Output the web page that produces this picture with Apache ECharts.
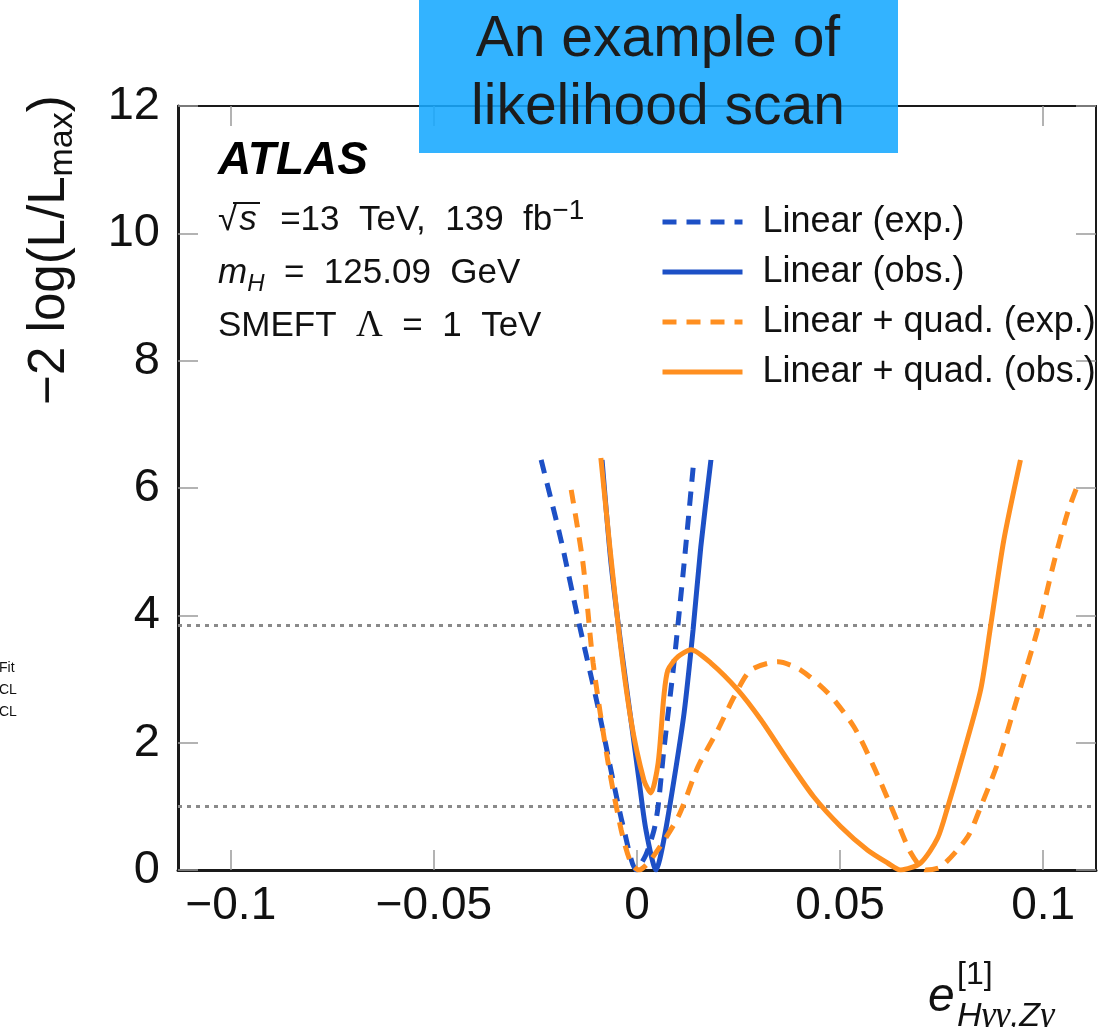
<!DOCTYPE html>
<html><head><meta charset="utf-8">
<script src="https://cdn.jsdelivr.net/npm/echarts@6/dist/echarts.min.js"></script>
<style>html,body{margin:0;padding:0;background:#fff}#c{width:1113px;height:1027px}</style>
</head><body><div id="c"></div>
<script>
// ---- data ----
const xTicks = [-0.1, -0.05, 0, 0.05, 0.1];
const yTicks = [0, 2, 4, 6, 8, 10, 12];
const clLevels = [1, 3.84];
const seriesNames = ['Linear (exp.)', 'Linear (obs.)', 'Linear + quad. (exp.)', 'Linear + quad. (obs.)'];

const linExp = [[-0.0236,6.44],[-0.0187,5.18],[-0.0143,3.88],[-0.0096,2.56],[-0.0059,1.41],[-0.0032,0.63],[-0.0002,0.0],
  [0.0022,0.24],[0.0042,0.63],[0.0052,1.0],[0.0066,1.88],[0.0091,3.25],[0.0116,4.82],[0.0140,6.44]];
const linObs = [[-0.0086,6.44],[-0.0064,4.82],[-0.0039,3.50],[-0.0015,2.36],[0.0005,1.41],[0.0022,0.63],[0.0047,0.0],
  [0.0066,0.47],[0.0091,1.41],[0.0116,2.47],[0.0138,3.77],[0.0157,5.07],[0.0182,6.44]];
const quadExp = [[-0.0162,5.97],[-0.0133,4.82],[-0.0108,3.25],[-0.0071,1.68],[-0.0039,0.63],[-0.0015,0.11],[0.0005,0.0],
  [0.0034,0.16],[0.0101,0.83],[0.0150,1.62],[0.0199,2.20],[0.0239,2.72],[0.0280,3.14],[0.0347,3.27],[0.0403,3.14],
  [0.0470,2.78],[0.0534,2.25],[0.0583,1.62],[0.0632,0.90],[0.0674,0.27],[0.0711,0.0],[0.0748,0.05],[0.0814,0.52],
  [0.0846,0.99],[0.0888,1.68],[0.0937,2.72],[0.0986,3.77],[0.1026,4.82],[0.1060,5.61],[0.1085,6.05]];
const quadObs = [[-0.0089,6.47],[-0.0047,3.88],[-0.0015,2.36],[0.0017,1.41],[0.0034,1.21],[0.0052,1.68],[0.0066,2.72],
  [0.0076,3.14],[0.0101,3.35],[0.0133,3.46],[0.0182,3.25],[0.0248,2.83],[0.0305,2.36],[0.0371,1.73],[0.0435,1.15],
  [0.0502,0.68],[0.0568,0.31],[0.0617,0.11],[0.0649,0.0],[0.0698,0.11],[0.0740,0.50],[0.0765,0.99],[0.0804,1.84],
  [0.0846,2.83],[0.0871,3.85],[0.0903,5.18],[0.0944,6.44]];

const xRange = [-0.113, 0.113];
const yRange = [0, 12];

const BLUE = '#1d50c6', ORANGE = '#ff8f20';
const FF = '"Liberation Sans", Arial, Helvetica, sans-serif';
const FS = '"Liberation Serif", "Times New Roman", serif';
const fmtX = v => v === 0 ? '0' : String(v).replace('-', '\u2212');

const chart = echarts.init(document.getElementById('c'));
const tickStyle = {show: true, inside: true, length: 20, lineStyle: {color: '#9a9a9a', width: 1.5}};
const axLine = w => ({show: true, onZero: false, lineStyle: {color: '#1a1a1a', width: w}});

function mk(name, data, color, dashed) {
  return {name, type: 'line', data, smooth: 0.25, symbol: 'none', showSymbol: false, z: 5,
    lineStyle: {color, width: 5, type: dashed ? [14, 10] : 'solid'}, itemStyle: {color}};
}

chart.setOption({
  animation: false,
  backgroundColor: '#fff',
  grid: {left: 178, right: 17, top: 106, bottom: 157},
  xAxis: [
    {type: 'value', min: xRange[0], max: xRange[1], position: 'bottom', axisLine: axLine(3),
     axisTick: Object.assign({customValues: xTicks}, tickStyle),
     axisLabel: {customValues: xTicks, formatter: fmtX, fontSize: 46, color: '#111', fontFamily: FF, margin: 13},
     splitLine: {show: false}},
    {type: 'value', min: xRange[0], max: xRange[1], position: 'top', axisLine: axLine(2),
     axisTick: Object.assign({customValues: xTicks}, tickStyle), axisLabel: {show: false}, splitLine: {show: false}}
  ],
  yAxis: [
    {type: 'value', min: yRange[0], max: yRange[1], position: 'left', axisLine: axLine(3),
     axisTick: Object.assign({customValues: yTicks}, tickStyle),
     axisLabel: {customValues: yTicks, fontSize: 47, color: '#111', fontFamily: FF, margin: 18, padding: [6, 0, 0, 0]},
     splitLine: {show: false}},
    {type: 'value', min: yRange[0], max: yRange[1], position: 'right', axisLine: axLine(2),
     axisTick: Object.assign({customValues: yTicks}, tickStyle), axisLabel: {show: false}, splitLine: {show: false}}
  ],
  legend: {
    orient: 'vertical', left: 660, top: 204, padding: 0, itemWidth: 80, itemHeight: 36, itemGap: 14,
    data: seriesNames,
    itemStyle: {opacity: 0},
    lineStyle: {width: 5},
    textStyle: {fontSize: 36, fontFamily: FF, color: '#111', lineHeight: 36, padding: [0, 0, 0, 15]}
  },
  series: [
    {name: 'cl', type: 'line', data: [], z: 1, silent: true,
     markLine: {silent: true, symbol: ['none', 'none'], label: {show: false},
       lineStyle: {color: '#8a8a8a', type: [4, 5], width: 3},
       data: clLevels.map(v => ({yAxis: v}))}},
    mk(seriesNames[0], linExp, BLUE, true),
    mk(seriesNames[1], linObs, BLUE, false),
    mk(seriesNames[2], quadExp, ORANGE, true),
    mk(seriesNames[3], quadObs, ORANGE, false)
  ],
  graphic: [
    {type: 'rect', shape: {x: 419, y: 0, width: 479, height: 153}, style: {fill: 'rgba(23,169,255,0.88)'}, z: 100},
    {type: 'text', x: 658, y: 40, z: 101, style: {text: 'An example of', font: '57px ' + FF, fill: '#1c1c1c', textAlign: 'center', textVerticalAlign: 'middle'}},
    {type: 'text', x: 658, y: 108, z: 101, style: {text: 'likelihood scan', font: '57px ' + FF, fill: '#1c1c1c', textAlign: 'center', textVerticalAlign: 'middle'}},
    {type: 'text', x: 218, y: 161, z: 50, style: {text: 'ATLAS', font: 'italic bold 46px ' + FF, fill: '#000', textVerticalAlign: 'middle'}},
    {type: 'text', x: 218, y: 220, z: 50, style: {
      text: '{n|\u221A}{it|s}{n|  =13  TeV,  139  fb}{sup|\u22121}', fill: '#111', textVerticalAlign: 'middle',
      rich: {n: {fontSize: 35, fontFamily: FF, lineHeight: 46},
             it: {fontStyle: 'italic', fontSize: 35, fontFamily: FF, lineHeight: 46, padding: [0, 4, 0, 2]},
             sup: {fontSize: 28, fontFamily: FF, lineHeight: 46, verticalAlign: 'top'}}}},
    {type: 'line', z: 50, shape: {x1: 233, y1: 203, x2: 260, y2: 203}, style: {stroke: '#111', lineWidth: 2}},
    {type: 'text', x: 218, y: 273, z: 50, style: {
      text: '{it|m}{sub|H}{n|  =  125.09  GeV}', fill: '#111', textVerticalAlign: 'middle',
      rich: {n: {fontSize: 35, fontFamily: FF, lineHeight: 46},
             it: {fontStyle: 'italic', fontSize: 35, fontFamily: FF, lineHeight: 46},
             sub: {fontStyle: 'italic', fontSize: 24, fontFamily: FF, lineHeight: 42, verticalAlign: 'bottom'}}}},
    {type: 'text', x: 218, y: 326, z: 50, style: {
      text: '{n|SMEFT  }{g|\u039B}{n|  =  1  TeV}', fill: '#111', textVerticalAlign: 'middle',
      rich: {n: {fontSize: 35, fontFamily: FF, lineHeight: 46}, g: {fontSize: 37, fontFamily: FS, lineHeight: 46}}}},
    {type: 'text', x: 50, y: 250, rotation: Math.PI / 2, z: 50, style: {
      text: '{n|\u22122 log(L/L}{sub|max}{n|)}', fill: '#111', textAlign: 'center', textVerticalAlign: 'middle',
      rich: {n: {fontSize: 51, fontFamily: FF, lineHeight: 58},
             sub: {fontSize: 34, fontFamily: FF, lineHeight: 60, verticalAlign: 'bottom'}}}},
    {type: 'text', x: 928, y: 998, z: 50, style: {text: 'e', font: 'italic 48px ' + FF, fill: '#111', textVerticalAlign: 'middle'}},
    {type: 'text', x: 957, y: 975, z: 50, style: {text: '[1]', font: '32px ' + FF, fill: '#111', textVerticalAlign: 'middle'}},
    {type: 'text', x: 957, y: 1017, z: 50, style: {
      text: '{s|H}{g|\u03B3\u03B3}{s|,Z}{g|\u03B3}', fill: '#111', textVerticalAlign: 'middle',
      rich: {s: {fontStyle: 'italic', fontSize: 34, fontFamily: FF}, g: {fontStyle: 'italic', fontSize: 36, fontFamily: FS}}}},
    {type: 'text', x: -1, y: 668, z: 50, style: {text: 'Fit', font: '14px ' + FF, fill: '#111', textVerticalAlign: 'middle'}},
    {type: 'text', x: -1, y: 690, z: 50, style: {text: 'CL', font: '14px ' + FF, fill: '#111', textVerticalAlign: 'middle'}},
    {type: 'text', x: -1, y: 712, z: 50, style: {text: 'CL', font: '14px ' + FF, fill: '#111', textVerticalAlign: 'middle'}}
  ]
});
</script></body></html>
